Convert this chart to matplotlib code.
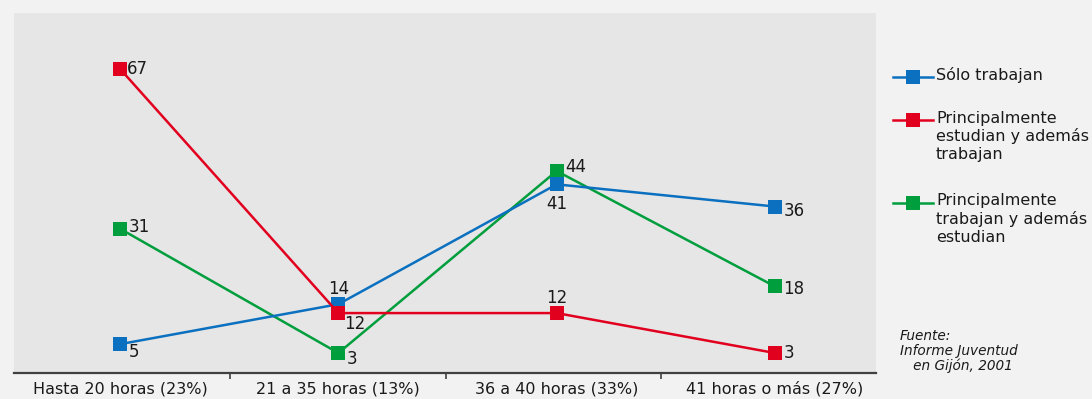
import matplotlib
matplotlib.use("Agg")
import matplotlib.pyplot as plt
from matplotlib.lines import Line2D

categories = ["Hasta 20 horas (23%)", "21 a 35 horas (13%)",
              "36 a 40 horas (33%)", "41 horas o más (27%)"]
solo_trabajan = [5, 14, 41, 36]
estudian_trabajan = [67, 12, 12, 3]
trabajan_estudian = [31, 3, 44, 18]

series_names = ["Sólo trabajan",
                "Principalmente\nestudian y además\ntrabajan",
                "Principalmente\ntrabajan y además\nestudian"]

BLUE = "#0b70bf"
RED = "#e2001f"
GREEN = "#009e3d"
FONT = "DejaVu Sans"

plt.rcParams["font.family"] = FONT

fig = plt.figure(figsize=(10.92, 3.99), dpi=100, facecolor="#f2f2f2")
ax = fig.add_axes([14 / 1092, 26 / 399, 862 / 1092, 360 / 399])
ax.set_facecolor("#e6e6e6")

x = list(range(len(categories)))
common = dict(lw=1.8, marker="s", markersize=10, markeredgewidth=0, clip_on=False)
ax.plot(x, trabajan_estudian, color=GREEN, zorder=3, **common)
ax.plot(x, solo_trabajan, color=BLUE, zorder=4, **common)
ax.plot(x, estudian_trabajan, color=RED, zorder=5, **common)

ax.set_xlim(-0.486, 3.463)
ax.set_ylim(-1.5, 79.6)

# value labels: (offset in points, alignment)
def label(xi, v, dx, dy, ha="left", va="center"):
    ax.annotate(str(v), (xi, v), xytext=(dx, dy), textcoords="offset points",
                ha=ha, va=va, fontsize=12, color="#1a1a1a", zorder=6)

# Sólo trabajan
label(0, 5, 6, -6)
label(1, 14, 0, 11, ha="center")
label(2, 41, 0, -14, ha="center")
label(3, 36, 6, -3)
# Principalmente estudian y además trabajan
label(0, 67, 5, 0)
label(1, 12, 4, -8)
label(2, 12, 0, 11, ha="center")
label(3, 3, 6, 0)
# Principalmente trabajan y además estudian
label(0, 31, 6, 1)
label(1, 3, 6, -4)
label(2, 44, 6, 3)
label(3, 18, 6, -2)

for side in ("top", "right", "left"):
    ax.spines[side].set_visible(False)
ax.spines["bottom"].set_color("#404040")
ax.spines["bottom"].set_linewidth(1.6)
ax.set_yticks([])
ax.set_xticks(x)
ax.set_xticklabels(categories, fontsize=11.5, color="#1a1a1a")
ax.tick_params(axis="x", which="major", length=0, pad=6)
ax.set_xticks([0.504, 1.493, 2.478], minor=True)
ax.tick_params(axis="x", which="minor", length=4, width=1.2, color="#404040",
               direction="out")

# legend
legend_rows = [(77, BLUE), (120, RED), (203, GREEN)]
for (ypix, color), name in zip(legend_rows, series_names):
    yf = 1 - ypix / 399
    fig.add_artist(Line2D([893 / 1092, 933 / 1092], [yf, yf], color=color, lw=1.8,
                          transform=fig.transFigure))
    fig.add_artist(Line2D([913 / 1092], [yf], color=color, marker="s",
                          markersize=10, markeredgewidth=0, transform=fig.transFigure))
    fig.text(936 / 1092, yf + 9.5 / 399, name, ha="left", va="top", fontsize=11.5,
             color="#1a1a1a", linespacing=1.22)

fig.text(900 / 1092, 1 - 329 / 399, "Fuente:\nInforme Juventud\n   en Gijón, 2001",
         ha="left", va="top", fontsize=9.8, style="italic", color="#1a1a1a",
         linespacing=1.05)

fig.savefig("out.png", dpi=100, facecolor=fig.get_facecolor())
